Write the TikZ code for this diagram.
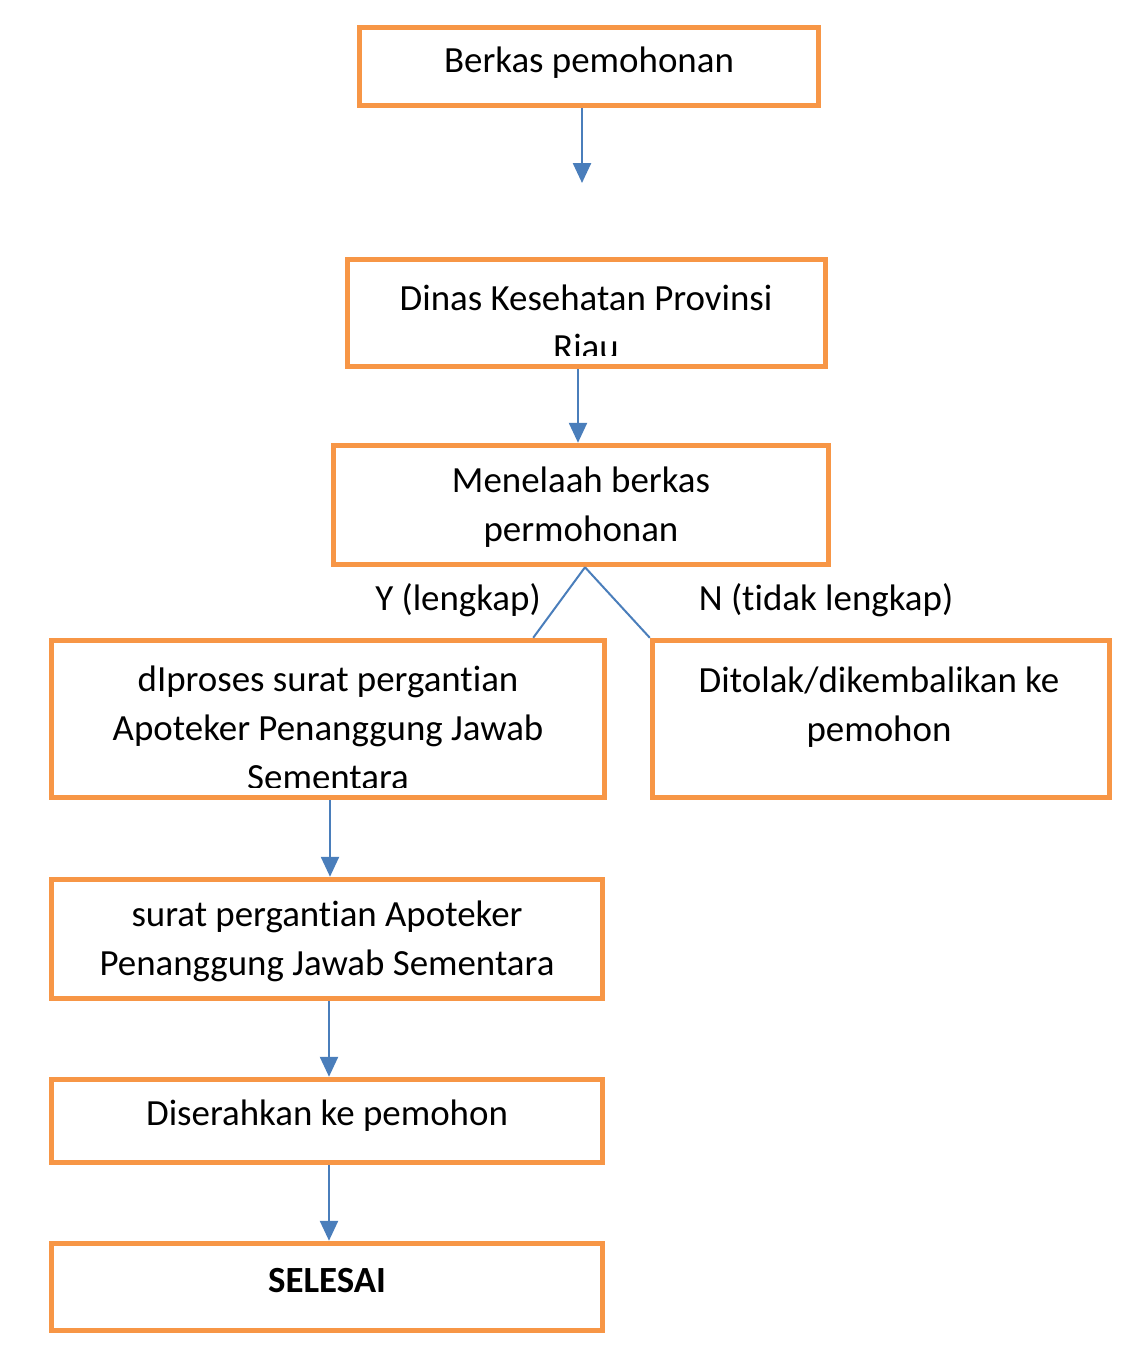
\documentclass[tikz,border=0pt]{standalone}
\usepackage{fontspec}
\setmainfont[Ligatures=NoCommon]{Carlito}
\usepackage{tikz}
\usepackage{xcolor}
\usetikzlibrary{arrows.meta, positioning}
\definecolor{boxorange}{RGB}{247,150,70}
\definecolor{flowblue}{RGB}{74,126,187}

\begin{document}
\begin{tikzpicture}[x=0.02cm, y=-0.02cm,
		box/.style={draw=boxorange, line width=0.1cm, inner sep=0pt},
		txt/.style={font=\fontsize{21}{27.9}\selectfont, align=center, inner sep=0pt},
		arrow/.style={-{Triangle[length=0.4cm, width=0.36cm]}, line width=0.05cm, draw=flowblue},
		branch/.style={line width=0.04cm, draw=flowblue}
	]
		\useasboundingbox (0,0) rectangle (1148,1372);
		% boxes
		\node[box, minimum width=9.19cm, minimum height=1.57cm] (berkas) at (589,66.5) {};
		\node[box, minimum width=9.57cm, minimum height=2.15cm] (dinas) at (586.5,313) {};
		\node[box, minimum width=9.91cm, minimum height=2.39cm] (telaah) at (581,505) {};
		\node[box, minimum width=11.07cm, minimum height=3.15cm] (proses) at (328,719) {};
		\node[box, minimum width=9.15cm, minimum height=3.15cm] (tolak) at (881,719) {};
		\node[box, minimum width=11.03cm, minimum height=2.39cm] (suratpjs) at (327,939) {};
		\node[box, minimum width=11.03cm, minimum height=1.67cm] (serah) at (327,1121) {};
		\node[box, minimum width=11.03cm, minimum height=1.75cm] (selesai) at (327,1287) {};
		% texts
		\node[txt] (tberkas) at (589,63) {Berkas pemohonan};
		\begin{scope}
			\clip ([xshift=0.2cm,yshift=0.27cm]dinas.south west) rectangle ([xshift=-0.2cm,yshift=-0.2cm]dinas.north east);
			\node[txt] (tdinas) at (586,322) {Dinas Kesehatan Provinsi\\Riau};
		\end{scope}
		\node[txt] (ttelaah) at (581,507) {Menelaah berkas\\permohonan};
		\begin{scope}
			\clip ([xshift=0.2cm,yshift=0.255cm]proses.south west) rectangle ([xshift=-0.2cm,yshift=-0.2cm]proses.north east);
			\node[txt] (tproses) at (328,728) {dIproses surat pergantian\\Apoteker Penanggung Jawab\\Sementara};
		\end{scope}
		\node[txt] (ttolak) at (879,707) {Ditolak/dikembalikan ke\\pemohon};
		\node[txt] (tsuratpjs) at (327,941) {surat pergantian Apoteker\\Penanggung Jawab Sementara};
		\node[txt] (tserah) at (327,1116) {Diserahkan ke pemohon};
		\node[txt, font=\fontsize{21}{27.9}\selectfont\bfseries] (tselesai) at (327,1281) {SELESAI};
		% connectors
		\coordinate (gap) at (582,183);
		\draw[arrow] (berkas.south -| gap) -- (gap);
		\draw[arrow] ([xshift=-0.06cm]dinas.south -| telaah.north) -- ([xshift=-0.06cm]telaah.north);
		\foreach \a/\b in {proses/suratpjs,suratpjs/serah,serah/selesai}
			\draw[arrow] ([xshift=0.04cm]\a.south) -- ([xshift=0.04cm]\a.south |- \b.north);
		\draw[branch] ([xshift=0.08cm]telaah.south) -- ([xshift=-1.48cm]proses.north east);
		\draw[branch] ([xshift=0.08cm]telaah.south) -- (tolak.north west);
		\node[txt] (ya) at (458,600) {Y (lengkap)};
		\node[txt] (tidak) at (826,600) {N (tidak lengkap)};
	\end{tikzpicture}
\end{document}
